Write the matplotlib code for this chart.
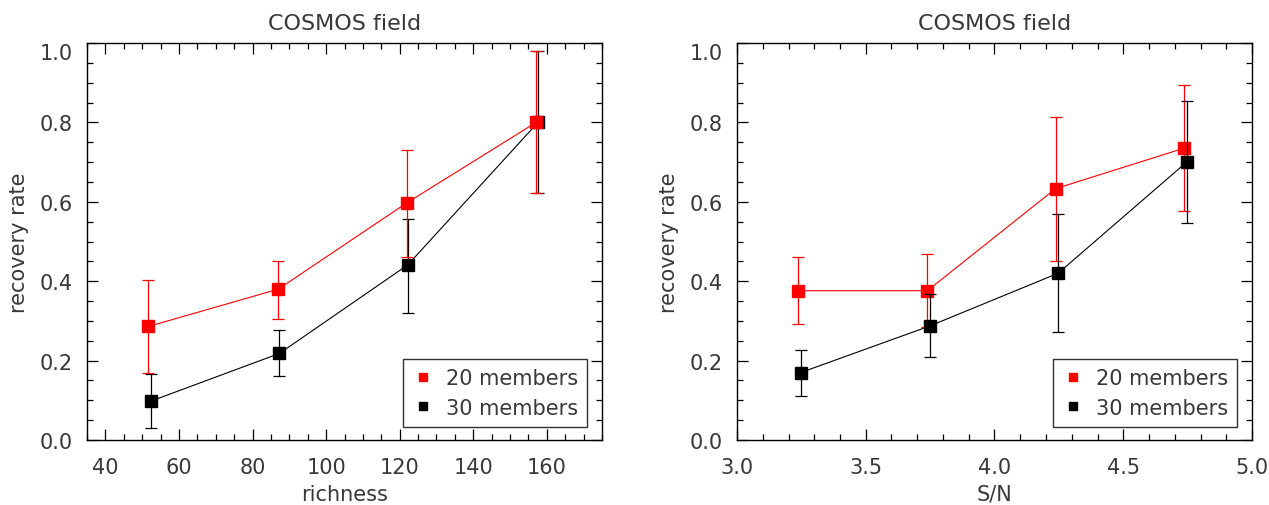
import numpy as np
import matplotlib
matplotlib.use('Agg')
from matplotlib import pyplot as plt
from matplotlib.lines import Line2D
from matplotlib.ticker import MultipleLocator

# left panel: recovery rate vs richness
rich_20 = [51.7, 87.0, 121.9, 157.1]
rate_20 = [0.286, 0.380, 0.597, 0.800]
lo_20 = [0.170, 0.304, 0.460, 0.621]
hi_20 = [0.403, 0.451, 0.731, 0.979]

rich_30 = [52.4, 87.3, 122.2, 157.6]
rate_30 = [0.098, 0.218, 0.441, 0.800]
lo_30 = [0.029, 0.161, 0.321, 0.621]
hi_30 = [0.166, 0.276, 0.556, 0.979]

# right panel: recovery rate vs S/N
sn_20 = [3.237, 3.739, 4.237, 4.736]
snrate_20 = [0.376, 0.376, 0.633, 0.735]
snlo_20 = [0.293, 0.284, 0.450, 0.578]
snhi_20 = [0.461, 0.468, 0.814, 0.893]

sn_30 = [3.248, 3.748, 4.247, 4.748]
snrate_30 = [0.170, 0.287, 0.420, 0.701]
snlo_30 = [0.111, 0.208, 0.271, 0.546]
snhi_30 = [0.226, 0.369, 0.570, 0.853]

labels = ['20 members', '30 members']
txtcol = '#383838'
fs = 15

plt.rcParams['font.family'] = 'DejaVu Sans'

fig = plt.figure(figsize=(12.69, 5.06), dpi=100)
ax1 = fig.add_axes([87/1269, 65/506, 515/1269, 397/506])
ax2 = fig.add_axes([737/1269, 65/506, 515/1269, 397/506])


def draw(ax, x, y, lo, hi, col, z):
    y = np.array(y)
    yerr = [y - np.array(lo), np.array(hi) - y]
    ax.errorbar(x, y, yerr=yerr, fmt='s-', color=col, ms=8.6, lw=0.8,
                elinewidth=0.9, capsize=4.3, capthick=0.9, zorder=z)


def style(ax, xlab, xlim, xmaj, xmin):
    ax.set_xlim(*xlim)
    ax.set_ylim(0, 1.0)
    ax.xaxis.set_major_locator(MultipleLocator(xmaj))
    ax.xaxis.set_minor_locator(MultipleLocator(xmin))
    ax.yaxis.set_major_locator(MultipleLocator(0.2))
    ax.yaxis.set_minor_locator(MultipleLocator(0.05))
    ax.yaxis.set_major_formatter(matplotlib.ticker.FormatStrFormatter('%.1f'))
    ax.tick_params(which='both', direction='in', top=True, right=True,
                   width=0.9, colors='black', labelcolor=txtcol, labelsize=fs)
    ax.tick_params(which='major', length=8)
    ax.tick_params(axis='x', which='major', pad=12)
    ax.tick_params(axis='y', which='major', pad=10)
    ax.tick_params(which='minor', length=4.5)
    for s in ax.spines.values():
        s.set_linewidth(1.0)
    ax.set_xlabel(xlab, fontsize=fs, color=txtcol, labelpad=5)
    ax.set_ylabel('recovery rate', fontsize=fs, color=txtcol, labelpad=8)
    ax.set_title('COSMOS field', fontsize=fs + 1, color=txtcol, pad=10)
    handles = [Line2D([], [], ls='none', marker='s', color='red', ms=6),
               Line2D([], [], ls='none', marker='s', color='black', ms=6)]
    leg = ax.legend(handles, labels, loc='lower right',
                    bbox_to_anchor=(0.971, 0.033), borderaxespad=0,
                    fontsize=fs, frameon=True, fancybox=False,
                    handlelength=1.0, handletextpad=0.6, borderpad=0.45,
                    labelspacing=0.45)
    leg.get_frame().set_edgecolor('black')
    leg.get_frame().set_linewidth(1.0)
    for t in leg.get_texts():
        t.set_color(txtcol)


draw(ax1, rich_30, rate_30, lo_30, hi_30, 'black', 3)
draw(ax1, rich_20, rate_20, lo_20, hi_20, 'red', 4)
style(ax1, 'richness', (35, 175), 20, 5)

draw(ax2, sn_20, snrate_20, snlo_20, snhi_20, 'red', 3)
draw(ax2, sn_30, snrate_30, snlo_30, snhi_30, 'black', 4)
style(ax2, 'S/N', (3.0, 5.0), 0.5, 0.1)

# IDL keeps the top label inside the axis range
fig.canvas.draw()
for ax in (ax1, ax2):
    for lbl in ax.get_yticklabels():
        if lbl.get_text() == '1.0':
            lbl.set_va('top')

fig.savefig('out.png', dpi=100)
